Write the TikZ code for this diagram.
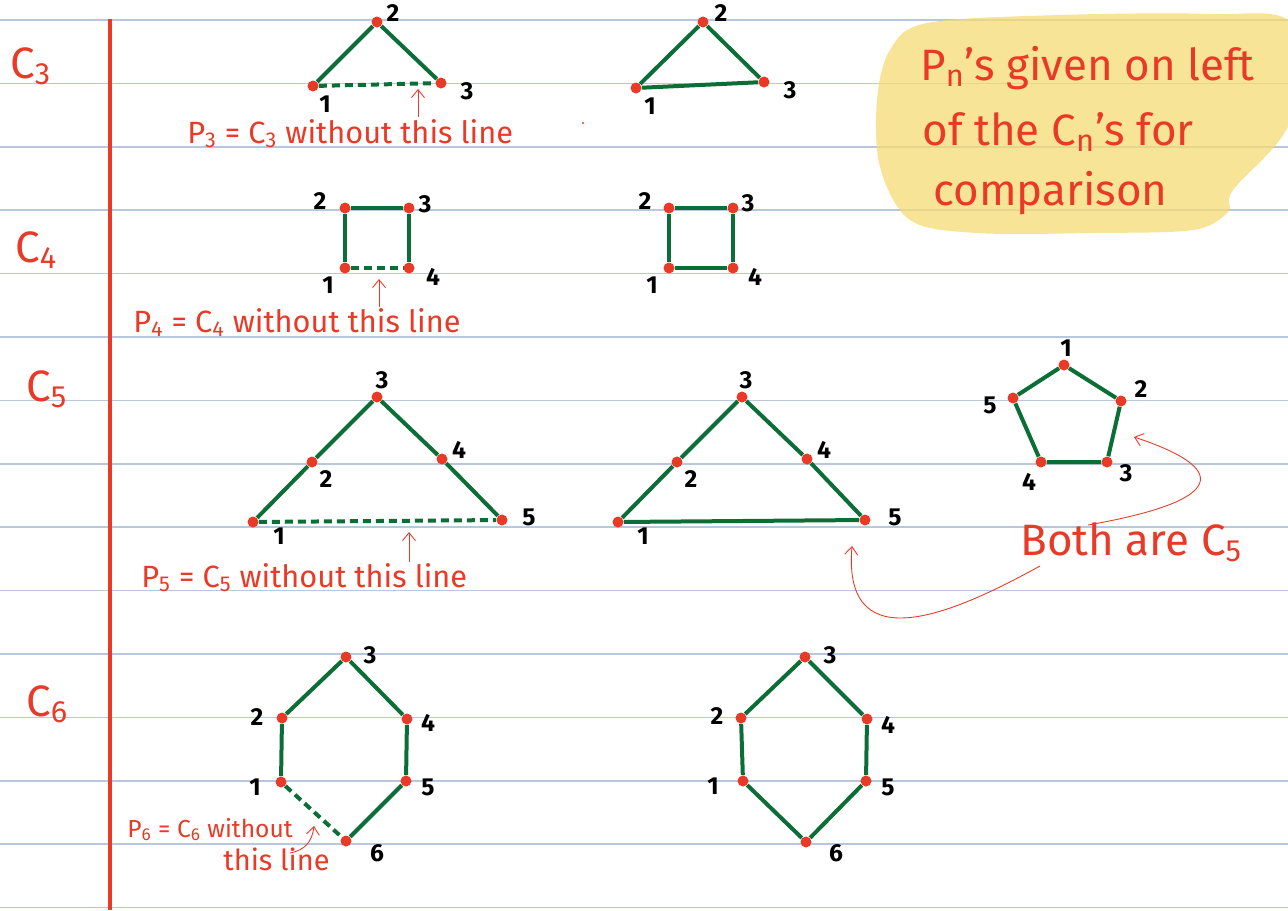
\documentclass[tikz,border=0pt]{standalone}
\usepackage{fontspec}
\setmainfont{Fira Sans}
\usetikzlibrary{arrows.meta,positioning}

\definecolor{penred}{RGB}{233,58,40}
\definecolor{pengreen}{RGB}{12,110,55}
\definecolor{rulecol}{RGB}{184,198,222}
\definecolor{hlyellow}{RGB}{246,219,115}

\pgfdeclarelayer{paper}
\pgfdeclarelayer{edges}
\pgfsetlayers{paper,edges,main}

\begin{document}
\begin{tikzpicture}[x=0.02cm, y=-0.02cm,
  dot/.style={circle, fill=penred, inner sep=0pt, minimum size=0.22cm},
  edge/.style={pengreen, line width=0.08cm},
  gap/.style={edge, dash pattern=on 0.16cm off 0.1cm},
  num/.style={font=\fontsize{14}{14}\selectfont\bfseries, inner sep=0pt},
  note/.style={penred, font=\fontsize{17.5}{17.5}\selectfont, inner sep=0pt, anchor=base west},
  big/.style={penred, font=\fontsize{25}{25}\selectfont, inner sep=0pt, anchor=base west},
  side/.style={penred, font=\fontsize{25}{25}\selectfont, inner sep=0pt, anchor=base west},
  pen/.style={penred, line width=0.5pt},
  hook/.style={pen, -{Straight Barb[length=1.6mm, width=2.6mm]}}
]
\useasboundingbox (0,0) rectangle (1288,910);

% paper: ruled lines, margin, highlight
\begin{pgfonlayer}{paper}
\fill[white] (0,0) rectangle (1288,910);
\foreach \i in {0,...,14}
  \draw[rulecol, line width=0.03cm] (0,20+63.4*\i) -- (1288,20+63.4*\i);
\fill[hlyellow, fill opacity=0.75] plot[smooth cycle, tension=0.55] coordinates
  {(927,23) (1060,15) (1210,14) (1292,24) (1290,122) (1233,190) (1228,212)
   (1193,230) (1093,233) (977,233) (910,220) (880,167) (877,100) (890,50)};
\draw[penred, line width=0.09cm] (110,19) -- (110,910);
\end{pgfonlayer}

% row labels
\node[side] (rc3) at (10,78) {C\textsubscript{3}};
\node[side] (rc4) at (15,262) {C\textsubscript{4}};
\node[side] (rc5) at (26,401) {C\textsubscript{5}};
\node[side] (rc6) at (26,716) {C\textsubscript{6}};

% C3
\node[dot] (p3a) at (313,86) {};
\node[dot] (p3b) at (377,22) {};
\node[dot] (p3c) at (441,83) {};
\node[dot] (c3a) at (636,88) {};
\node[dot] (c3b) at (703,22) {};
\node[dot] (c3c) at (764,82) {};
\node[num] (p3an) at (325,104) {1};
\node[num] (p3bn) at (393,13) {2};
\node[num] (p3cn) at (467,91) {3};
\node[num] (c3an) at (650,106) {1};
\node[num] (c3bn) at (721,13) {2};
\node[num] (c3cn) at (790,90) {3};
\begin{pgfonlayer}{edges}
\draw[edge] (p3a) -- (p3b) -- (p3c);
\draw[gap] (p3a) -- (p3c);
\draw[edge] (c3a) -- (c3b) -- (c3c) -- (c3a);
\end{pgfonlayer}
\node[note] (p3note) at (187,143) {P\textsubscript{3} = C\textsubscript{3} without this line};
\coordinate (p3tail) at (418,117);
\coordinate (p3tip) at (418,89);
\draw[hook] (p3tail) -- (p3tip);
\fill[penred] (583,123) circle (1.2);

% highlighted remark
\node[big] (rem1) at (920,80) {P\textsubscript{n}’s given on left};
\node[big] (rem2) at (922,145) {of the C\textsubscript{n}’s for};
\node[big] (rem3) at (933,205) {comparison};

% C4
\node[dot] (p4a) at (345,268) {};
\node[dot] (p4b) at (345,208) {};
\node[dot] (p4c) at (409,208) {};
\node[dot] (p4d) at (409,268) {};
\node[dot] (c4a) at (669,268) {};
\node[dot] (c4b) at (669,208) {};
\node[dot] (c4c) at (733,208) {};
\node[dot] (c4d) at (733,268) {};
\node[num] (p4an) at (328,285) {1};
\node[num] (p4bn) at (320,201) {2};
\node[num] (p4cn) at (425,204) {3};
\node[num] (p4dn) at (433,277) {4};
\node[num] (c4an) at (652,285) {1};
\node[num] (c4bn) at (645,201) {2};
\node[num] (c4cn) at (748,203) {3};
\node[num] (c4dn) at (755,277) {4};
\begin{pgfonlayer}{edges}
\draw[edge] (p4a) -- (p4b) -- (p4c) -- (p4d);
\draw[gap] (p4a) -- (p4d);
\draw[edge] (c4a) -- (c4b) -- (c4c) -- (c4d) -- (c4a);
\end{pgfonlayer}
\node[note] (p4note) at (133,332) {P\textsubscript{4} = C\textsubscript{4} without this line};
\coordinate (p4tail) at (379,307);
\coordinate (p4tip) at (379,279);
\draw[hook] (p4tail) -- (p4tip);

% C5
\node[dot] (p5a) at (253,522) {};
\node[dot] (p5b) at (312,462) {};
\node[dot] (p5c) at (377,397) {};
\node[dot] (p5d) at (442,459) {};
\node[dot] (p5e) at (502,520) {};
\node[dot] (c5a) at (618,522) {};
\node[dot] (c5b) at (677,462) {};
\node[dot] (c5c) at (742,397) {};
\node[dot] (c5d) at (807,459) {};
\node[dot] (c5e) at (865,520) {};
\node[num] (p5an) at (279,536) {1};
\node[num] (p5bn) at (326,479) {2};
\node[num] (p5cn) at (382,380) {3};
\node[num] (p5dn) at (459,450) {4};
\node[num] (p5en) at (529,517) {5};
\node[num] (c5an) at (643,536) {1};
\node[num] (c5bn) at (691,479) {2};
\node[num] (c5cn) at (746,380) {3};
\node[num] (c5dn) at (824,450) {4};
\node[num] (c5en) at (895,517) {5};
\begin{pgfonlayer}{edges}
\draw[edge] (p5a) -- (p5b) -- (p5c) -- (p5d) -- (p5e);
\draw[gap] (p5a) -- (p5e);
\draw[edge] (c5a) -- (c5b) -- (c5c) -- (c5d) -- (c5e) -- (c5a);
\end{pgfonlayer}
\node[note] (p5note) at (141,587) {P\textsubscript{5} = C\textsubscript{5} without this line};
\coordinate (p5tail) at (409,562);
\coordinate (p5tip) at (409,532);
\draw[hook] (p5tail) -- (p5tip);

% pentagon
\node[dot] (q5a) at (1064,365) {};
\node[dot] (q5b) at (1121,401) {};
\node[dot] (q5c) at (1107,462) {};
\node[dot] (q5d) at (1041,462) {};
\node[dot] (q5e) at (1013,398) {};
\node[num] (q5an) at (1066,348) {1};
\node[num] (q5bn) at (1141,389) {2};
\node[num] (q5cn) at (1126,473) {3};
\node[num] (q5dn) at (1029,482) {4};
\node[num] (q5en) at (990,405) {5};
\begin{pgfonlayer}{edges}
\draw[edge] (q5a) -- (q5b) -- (q5c) -- (q5d) -- (q5e) -- (q5a);
\end{pgfonlayer}
\node[big] (both) at (1020,555) {Both are C\textsubscript{5}};
\coordinate (bothup) at (1088,525);
\coordinate (bothdn) at (1040,566);
\coordinate (q5tip) at (1134,437);
\coordinate (c5tip) at (852,546);
\draw[hook] (bothup) .. controls (1230,500) and (1228,468) .. (q5tip);
\draw[hook] (bothdn) .. controls (960,610) and (842,665) .. (c5tip);

% C6
\node[dot] (p6a) at (281,782) {};
\node[dot] (p6b) at (282,718) {};
\node[dot] (p6c) at (346,657) {};
\node[dot] (p6d) at (407,719) {};
\node[dot] (p6e) at (406,781) {};
\node[dot] (p6f) at (346,841) {};
\node[dot] (c6a) at (743,781) {};
\node[dot] (c6b) at (741,718) {};
\node[dot] (c6c) at (805,657) {};
\node[dot] (c6d) at (867,719) {};
\node[dot] (c6e) at (866,781) {};
\node[dot] (c6f) at (806,842) {};
\node[num] (p6an) at (255,787) {1};
\node[num] (p6bn) at (257,717) {2};
\node[num] (p6cn) at (370,655) {3};
\node[num] (p6dn) at (428,723) {4};
\node[num] (p6en) at (428,787) {5};
\node[num] (p6fn) at (377,853) {6};
\node[num] (c6an) at (713,786) {1};
\node[num] (c6bn) at (717,716) {2};
\node[num] (c6cn) at (830,655) {3};
\node[num] (c6dn) at (888,725) {4};
\node[num] (c6en) at (888,787) {5};
\node[num] (c6fn) at (836,853) {6};
\begin{pgfonlayer}{edges}
\draw[edge] (p6a) -- (p6b) -- (p6c) -- (p6d) -- (p6e) -- (p6f);
\draw[gap] (p6a) -- (p6f);
\draw[edge] (c6a) -- (c6b) -- (c6c) -- (c6d) -- (c6e) -- (c6f) -- (c6a);
\end{pgfonlayer}
\node[note, font=\fontsize{14}{14}\selectfont] (p6note) at (127,837) {P\textsubscript{6} = C\textsubscript{6} without};
\node[note, font=\fontsize{16.5}{16.5}\selectfont] (p6note2) at (223,870) {this line};
\coordinate (p6tail) at (290,853);
\coordinate (p6tip) at (314,826);
\draw[hook] (p6tail) .. controls (305,850) and (312,842) .. (p6tip);
\end{tikzpicture}
\end{document}
